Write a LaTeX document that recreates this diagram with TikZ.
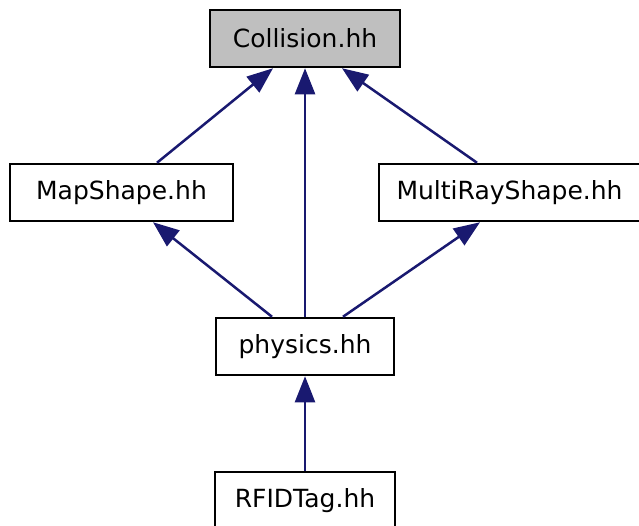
\documentclass[tikz,border=0pt]{standalone}
\usepackage{fontspec}
\setmainfont{DejaVu Sans}
\usetikzlibrary{arrows.meta,calc}
\definecolor{edgeblue}{HTML}{191970}
\definecolor{focusgray}{HTML}{BFBFBF}
\tikzset{
  filebox/.style={draw=black, line width=2.5pt, fill=white, inner sep=0pt,
    minimum height=57pt, font=\fontsize{25}{30}\selectfont, anchor=center},
  dep/.style={draw=edgeblue, line width=2.5pt,
    {Triangle[length=26pt,width=20pt,fill=edgeblue]}-},
}
\begin{document}
\begin{tikzpicture}[x=1pt,y=-1pt]
\useasboundingbox (0,0) rectangle (639,525);
\node[filebox, fill=focusgray, minimum width=190pt] (col) at (305,38.5) {Collision.hh};
\node[filebox, minimum width=223pt] (map) at (121.5,192.5) {MapShape.hh};
\node[filebox, minimum width=261pt] (multi) at (509.5,192.5) {MultiRayShape.hh};
\node[filebox, minimum width=178pt] (phys) at (305,346.5) {physics.hh};
\node[filebox, minimum width=180pt] (rfid) at (305,500.5) {RFIDTag.hh};
\draw[dep] ($(col.south)+(-32,0)$) -- ($(map.north)+(35.5,0)$);
\draw[dep] (col.south) -- (phys.north);
\draw[dep] ($(col.south)+(37,0)$) -- ($(multi.north)+(-32.5,0)$);
\draw[dep] ($(map.south)+(31.5,0)$) -- ($(phys.north)+(-33,0)$);
\draw[dep] ($(multi.south)+(-29.5,0)$) -- ($(phys.north)+(38,0)$);
\draw[dep] (phys.south) -- (rfid.north);
\end{tikzpicture}
\end{document}
